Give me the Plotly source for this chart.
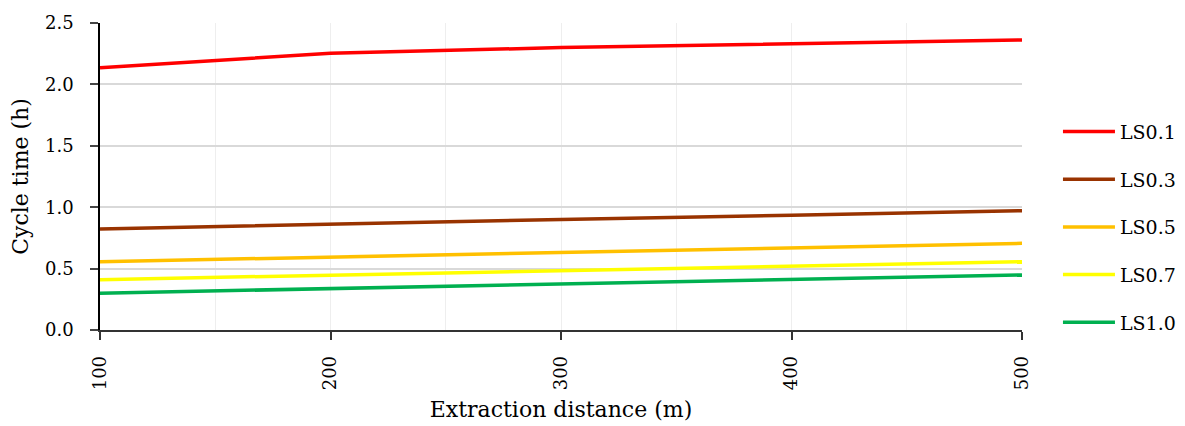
import plotly.graph_objects as go

distance = [100, 200, 300, 400, 500]
ls01 = [2.136, 2.253, 2.300, 2.333, 2.362]
ls03 = [0.822, 0.863, 0.900, 0.935, 0.972]
ls05 = [0.556, 0.595, 0.632, 0.670, 0.706]
ls07 = [0.410, 0.445, 0.482, 0.520, 0.556]
ls10 = [0.300, 0.337, 0.375, 0.412, 0.448]

series = [
    ("LS0.1", ls01, "#ff0000"),
    ("LS0.3", ls03, "#993300"),
    ("LS0.5", ls05, "#ffc000"),
    ("LS0.7", ls07, "#ffff00"),
    ("LS1.0", ls10, "#00b050"),
]

FONT = "DejaVu Serif"
fig = go.Figure()
for i, (name, vals, col) in enumerate(series):
    fig.add_trace(go.Scatter(x=distance, y=vals, name=name, mode="lines",
                             line=dict(color=col, width=3.5), legendgroup=str(i)))

fig.update_layout(
    width=1177, height=418,
    margin=dict(l=92, r=163, t=15, b=96, autoexpand=False),
    paper_bgcolor="white", plot_bgcolor="white",
    font=dict(family=FONT, size=18, color="black"),
    showlegend=True,
    legend=dict(x=1.039, xanchor="left", y=0.335, yanchor="middle",
                font=dict(family=FONT, size=19), tracegroupgap=20,
                itemwidth=52, bgcolor="rgba(0,0,0,0)"),
    xaxis=dict(range=[100, 500], tickmode="array", tickvals=distance,
               tickangle=-90, ticks="outside", ticklen=8, tickwidth=1.5,
               tickcolor="#333333", ticklabelstandoff=9,
               showline=True, linecolor="#333333", linewidth=1.5,
               showgrid=True, gridcolor="#eeeeee", gridwidth=1,
               minor=dict(dtick=50, showgrid=True, gridcolor="#eeeeee", gridwidth=1),
               zeroline=False, automargin=False,
               title=dict(text="Extraction distance (m)", font=dict(size=22), standoff=12),
               tickfont=dict(size=18)),
    yaxis=dict(range=[0, 2.5], dtick=0.5, tickformat=".1f",
               ticks="outside", ticklen=8, tickwidth=1.5, ticklabelstandoff=13,
               showline=True, linecolor="black", linewidth=1.5,
               showgrid=True, gridcolor="#d9d9d9", gridwidth=1.5,
               zeroline=False, automargin=False,
               title=dict(text="Cycle time (h)", font=dict(size=22), standoff=16),
               tickfont=dict(size=18)),
)

fig.write_html("out.html")
